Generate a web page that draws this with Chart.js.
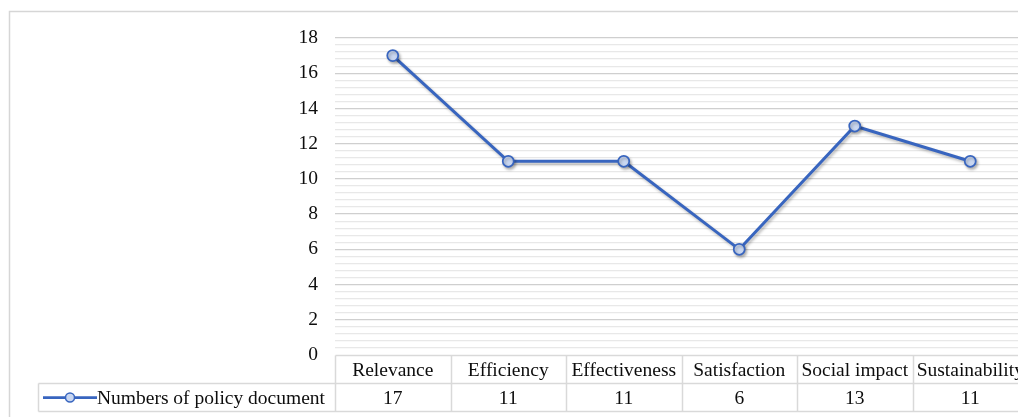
<!DOCTYPE html>
<html>
<head>
<meta charset="utf-8">
<script src="https://cdn.jsdelivr.net/npm/chart.js@4/dist/chart.umd.min.js"></script>
<style>
  html, body { margin: 0; padding: 0; background: #ffffff; overflow: hidden; }
  #wrap { width: 1018px; height: 417px; overflow: hidden; position: relative; }
  canvas { display: block; }
</style>
</head>
<body>
<div id="wrap"><canvas id="chart" width="1060" height="417"></canvas></div>
<script>
// Evaluation criteria and the number of policy documents covering each
const categories = ['Relevance', 'Efficiency', 'Effectiveness', 'Satisfaction', 'Social impact', 'Sustainability'];
const documentCounts = [17, 11, 11, 6, 13, 11];
const seriesName = 'Numbers of policy document';
const yTicks = [0, 2, 4, 6, 8, 10, 12, 14, 16, 18];

const SERIF = '"Liberation Serif", "Times New Roman", serif';
const LINE_BLUE = '#3865bf';
const TABLE_LINE = '#d9d9d9';
const TEXT = '#0d0d0d';
const ROW_H = 28;

// Outer frame and white background
const framePlugin = {
  id: 'frame',
  beforeDraw(chart) {
    const ctx = chart.ctx;
    ctx.save();
    ctx.fillStyle = '#ffffff';
    ctx.fillRect(0, 0, chart.width, chart.height);
    ctx.strokeStyle = '#d6d6d6';
    ctx.lineWidth = 1.5;
    ctx.strokeRect(9.5, 11.5, chart.width + 20, chart.height + 20);
    ctx.restore();
  }
};

// Soft shadow under the series line
const shadowPlugin = {
  id: 'lineShadow',
  beforeDatasetDraw(chart) {
    const ctx = chart.ctx;
    ctx.save();
    ctx.shadowColor = 'rgba(0,0,0,0.28)';
    ctx.shadowBlur = 3;
    ctx.shadowOffsetX = 1.5;
    ctx.shadowOffsetY = 2;
  },
  afterDatasetDraw(chart) {
    chart.ctx.restore();
  }
};

// Data table below the plot: category row, then the series row with its legend key
const tablePlugin = {
  id: 'dataTable',
  afterDraw(chart) {
    const ctx = chart.ctx;
    const x = chart.scales.x;
    const area = chart.chartArea;
    const half = (x.getPixelForValue(1) - x.getPixelForValue(0)) / 2;
    const top = Math.round(area.bottom) + 0.5;
    const mid = top + ROW_H;
    const bot = mid + ROW_H;
    const legendLeft = 38.5;
    const left = Math.round(area.left) + 0.5;
    const right = x.getPixelForValue(categories.length - 1) + half;

    ctx.save();
    ctx.strokeStyle = TABLE_LINE;
    ctx.lineWidth = 1.5;
    ctx.beginPath();
    ctx.moveTo(left, top); ctx.lineTo(right, top);
    ctx.moveTo(legendLeft, mid); ctx.lineTo(right, mid);
    ctx.moveTo(legendLeft, bot); ctx.lineTo(right, bot);
    ctx.moveTo(legendLeft, mid); ctx.lineTo(legendLeft, bot);
    for (let i = 0; i <= categories.length; i++) {
      const px = Math.round(x.getPixelForValue(i) - half) + 0.5;
      ctx.moveTo(px, top); ctx.lineTo(px, bot);
    }
    ctx.stroke();

    ctx.fillStyle = TEXT;
    ctx.font = '19.5px ' + SERIF;
    ctx.textAlign = 'center';
    ctx.textBaseline = 'middle';
    categories.forEach((c, i) => {
      const cx = x.getPixelForValue(i);
      ctx.fillText(c, cx, top + ROW_H / 2 + 1);
      ctx.fillText(String(documentCounts[i]), cx, mid + ROW_H / 2 + 1);
    });

    // legend key: line with hollow marker
    const ky = mid + ROW_H / 2;
    ctx.strokeStyle = LINE_BLUE;
    ctx.lineWidth = 2.75;
    ctx.beginPath();
    ctx.moveTo(43, ky); ctx.lineTo(97, ky);
    ctx.stroke();
    ctx.beginPath();
    ctx.arc(70, ky, 4.5, 0, Math.PI * 2);
    ctx.fillStyle = '#c9d7f1';
    ctx.fill();
    ctx.lineWidth = 1.5;
    ctx.stroke();

    ctx.fillStyle = TEXT;
    ctx.textAlign = 'left';
    ctx.fillText(seriesName, 97, ky + 1);
    ctx.restore();
  }
};

new Chart(document.getElementById('chart'), {
  type: 'line',
  data: {
    labels: categories,
    datasets: [{
      label: seriesName,
      data: documentCounts,
      borderColor: LINE_BLUE,
      borderWidth: 3,
      tension: 0,
      pointRadius: 5.5,
      pointHoverRadius: 5.5,
      pointBackgroundColor: '#c9d7f1',
      pointBorderColor: LINE_BLUE,
      pointBorderWidth: 1.75
    }]
  },
  options: {
    responsive: false,
    animation: false,
    events: [],
    layout: { padding: { left: 0, right: 32, top: 38, bottom: 62 } },
    plugins: { legend: { display: false }, tooltip: { enabled: false } },
    scales: {
      x: {
        type: 'category',
        offset: true,
        display: false
      },
      y: {
        min: 0,
        max: 18,
        position: 'left',
        afterFit(scale) { scale.width = 335; },
        afterBuildTicks(scale) { scale.ticks = yTicks.map(v => ({ value: v })); },
        border: { display: false },
        grid: { display: false, drawTicks: false },
        ticks: {
          color: TEXT,
          padding: 17,
          font: { family: SERIF, size: 19.5 }
        }
      },
      yMinor: {
        min: 0,
        max: 18,
        position: 'left',
        afterFit(scale) { scale.width = 0; },
        border: { display: false },
        grid: {
          drawTicks: false,
          lineWidth: 1.3,
          color(ctx) {
            const v = ctx.tick ? ctx.tick.value : 0;
            if (Math.abs(v) < 1e-6) return 'rgba(0,0,0,0)';
            return Math.abs(v / 2 - Math.round(v / 2)) < 1e-6 ? '#cfcfcf' : '#e8e8e8';
          }
        },
        ticks: {
          display: false,
          stepSize: 0.4,
          maxTicksLimit: 100,
          autoSkip: false,
          font: { size: 1 }
        }
      }
    }
  },
  plugins: [framePlugin, shadowPlugin, tablePlugin]
});
</script>
</body>
</html>
